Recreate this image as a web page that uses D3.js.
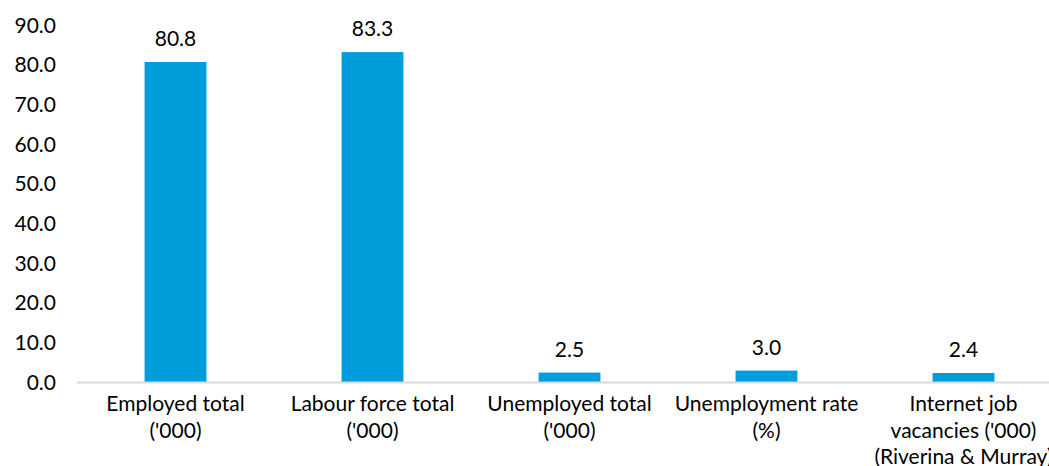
<!DOCTYPE html>
<html>
<head>
<meta charset="utf-8">
<script src="https://cdn.jsdelivr.net/npm/d3@7"></script>
<style>
  html, body { margin: 0; padding: 0; background: #fff; }
  svg { display: block; }
  text { font-family: "Lato", "Noto Sans", sans-serif; fill: #000; }
</style>
</head>
<body>
<svg id="chart" width="1049" height="466"></svg>
<script>
// Labour market indicators
const categories = [
  ["Employed total", "('000)"],
  ["Labour force total", "('000)"],
  ["Unemployed total", "('000)"],
  ["Unemployment rate", "(%)"],
  ["Internet job", "vacancies ('000)", "(Riverina & Murray)"]
];
const values = [80.8, 83.3, 2.5, 3.0, 2.4];
const yTicks = [0, 10, 20, 30, 40, 50, 60, 70, 80, 90];

const svg = d3.select("#chart");
const margin = { left: 77, top: 25.5, bottom: 382.5 };
const bandWidth = 197;
const fontSize = 21;

const x = d3.scaleBand()
  .domain(d3.range(categories.length))
  .range([margin.left, margin.left + bandWidth * categories.length])
  .paddingInner(0.686)
  .paddingOuter(0.343);

const y = d3.scaleLinear().domain([0, 90]).range([margin.bottom, margin.top]);

// y axis labels
const yAxis = d3.axisLeft(y).tickValues(yTicks).tickFormat(d3.format(".1f")).tickSize(0).tickPadding(0);
const yg = svg.append("g").attr("transform", "translate(56,0)").call(yAxis);
yg.select(".domain").remove();
yg.selectAll("text").style("font-family", "Lato, 'Noto Sans', sans-serif").attr("font-size", fontSize).attr("fill", "#000");

// bars
svg.append("g").selectAll("rect")
  .data(values)
  .join("rect")
  .attr("x", (d, i) => x(i))
  .attr("width", x.bandwidth())
  .attr("y", d => y(d))
  .attr("height", d => y(0) - y(d))
  .attr("fill", "#009DDC");

// baseline
svg.append("line")
  .attr("x1", margin.left).attr("x2", 1049)
  .attr("y1", y(0)).attr("y2", y(0))
  .attr("stroke", "#D9D9D9").attr("stroke-width", 2);

// value labels
svg.append("g").selectAll("text")
  .data(values)
  .join("text")
  .attr("x", (d, i) => x(i) + x.bandwidth() / 2)
  .attr("y", d => y(d) - 16)
  .attr("text-anchor", "middle")
  .attr("font-size", fontSize)
  .text(d => d3.format(".1f")(d));

// category labels
const cg = svg.append("g").selectAll("text")
  .data(categories)
  .join("text")
  .attr("text-anchor", "middle")
  .attr("font-size", fontSize)
  .attr("x", (d, i) => x(i) + x.bandwidth() / 2)
  .attr("y", 411);
cg.selectAll("tspan")
  .data(d => d)
  .join("tspan")
  .attr("x", function () { return d3.select(this.parentNode).attr("x"); })
  .attr("dy", (d, i) => i === 0 ? 0 : 26.5)
  .text(d => d);
</script>
</body>
</html>
